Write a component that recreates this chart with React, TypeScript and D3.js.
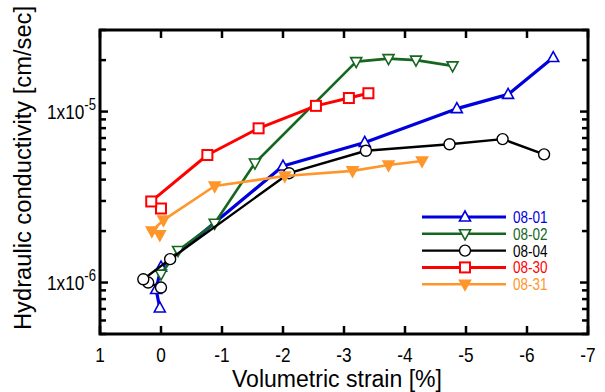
import { useRef, useEffect } from 'react'
import * as d3 from 'd3'

// volumetric strain [%] and hydraulic conductivity [cm/sec] per specimen
const strain0801 = [0.02, 0.08, 0.0, -2.0, -3.34, -4.85, -5.69, -6.43]
const k0801 = [7.1e-7, 9.1e-7, 1.23e-6, 4.8e-6, 6.6e-6, 1.04e-5, 1.26e-5, 2.07e-5]

const strain0802 = [0.0, -0.28, -0.88, -1.54, -3.2, -3.73, -4.18, -4.78]
const k0802 = [1.12e-6, 1.54e-6, 2.22e-6, 5.0e-6, 1.96e-5, 2.04e-5, 2.0e-5, 1.85e-5]

const strain0804 = [0.0, 0.21, 0.29, -0.15, -2.1, -3.36, -4.73, -5.6, -6.28]
const k0804 = [9.35e-7, 1.0e-6, 1.045e-6, 1.37e-6, 4.36e-6, 5.9e-6, 6.44e-6, 6.9e-6, 5.62e-6]

const strain0830 = [0.0, 0.16, -0.76, -1.6, -2.54, -3.08, -3.4]
const k0830 = [2.71e-6, 2.98e-6, 5.57e-6, 7.98e-6, 1.08e-5, 1.2e-5, 1.28e-5]

const strain0831 = [0.02, 0.15, -0.04, -0.88, -2.03, -3.14, -3.73, -4.28]
const k0831 = [1.9e-6, 2.0e-6, 2.32e-6, 3.67e-6, 4.2e-6, 4.5e-6, 4.87e-6, 5.14e-6]

const xTicks = [1, 0, -1, -2, -3, -4, -5, -6, -7]
const yMajor = [1e-6, 1e-5]
const yMajorExp = ['-6', '-5']

type Marker = 'up' | 'down' | 'circle' | 'square' | 'downFilled'

const series: { name: string; xs: number[]; ys: number[]; color: string; width: number; marker: Marker }[] = [
  { name: '08-01', xs: strain0801, ys: k0801, color: '#0000dd', width: 3.2, marker: 'up' },
  { name: '08-02', xs: strain0802, ys: k0802, color: '#15661f', width: 2.6, marker: 'down' },
  { name: '08-04', xs: strain0804, ys: k0804, color: '#000000', width: 2.4, marker: 'circle' },
  { name: '08-30', xs: strain0830, ys: k0830, color: '#ff0000', width: 3, marker: 'square' },
  { name: '08-31', xs: strain0831, ys: k0831, color: '#ff962b', width: 2.6, marker: 'downFilled' },
]

const FONT = "'Liberation Sans', Arial, sans-serif"
const NARROW = 0.82

function drawMarker(g: d3.Selection<SVGGElement, unknown, null, undefined>, m: Marker, cx: number, cy: number, color: string) {
  if (m === 'circle') {
    g.append('circle').attr('cx', cx).attr('cy', cy).attr('r', 5.5)
      .attr('fill', 'white').attr('stroke', color).attr('stroke-width', 1.4)
  } else if (m === 'square') {
    g.append('rect').attr('x', cx - 5).attr('y', cy - 5).attr('width', 10).attr('height', 10)
      .attr('fill', 'white').attr('stroke', color).attr('stroke-width', 2)
  } else {
    const s = m === 'up' ? -1 : 1
    const p = `M${cx},${cy + 6 * s}L${cx + 5.5},${cy - 4 * s}L${cx - 5.5},${cy - 4 * s}Z`
    g.append('path').attr('d', p)
      .attr('fill', m === 'downFilled' ? color : 'white')
      .attr('stroke', color).attr('stroke-width', 1.6).attr('stroke-linejoin', 'miter')
  }
}

export default function App() {
  const svgRef = useRef<SVGSVGElement>(null)

  useEffect(() => {
    if (!svgRef.current) return
    const svg = d3.select(svgRef.current)
    svg.selectAll('*').remove()

    const left = 100, right = 588, top = 30, bottom = 334
    const x = d3.scaleLinear().domain([1, -7]).range([left, right])
    const y = d3.scaleLog().domain([5e-7, 3e-5]).range([bottom, top])

    // narrow text: Liberation Sans squeezed horizontally
    const label = (px: number, py: number, size: number, anchor: string) =>
      svg.append('text').attr('transform', `translate(${px},${py}) scale(${NARROW},1)`)
        .attr('text-anchor', anchor).style('font-family', FONT).style('font-size', `${size}px`)

    // ticks, inward on all four sides
    const ticks = svg.append('g').attr('stroke', 'black').attr('stroke-width', 2.5)
    xTicks.forEach(t => {
      ticks.append('line').attr('x1', x(t)).attr('x2', x(t)).attr('y1', bottom).attr('y2', bottom - 8)
      ticks.append('line').attr('x1', x(t)).attr('x2', x(t)).attr('y1', top).attr('y2', top + 8)
    })
    y.ticks().forEach(t => {
      const major = yMajor.some(v => Math.abs(v - t) / v < 1e-6)
      const len = major ? 8 : 6
      ticks.append('line').attr('x1', left).attr('x2', left + len).attr('y1', y(t)).attr('y2', y(t))
      ticks.append('line').attr('x1', right).attr('x2', right - len).attr('y1', y(t)).attr('y2', y(t))
    })

    svg.append('rect').attr('x', left).attr('y', top).attr('width', right - left).attr('height', bottom - top)
      .attr('fill', 'none').attr('stroke', 'black').attr('stroke-width', 3)

    // tick labels
    xTicks.forEach(t => {
      label(x(t), 362, 21, 'middle').text(`${t}`)
    })
    yMajor.forEach((v, i) => {
      const tx = label(96, y(v) + 7.5, 21, 'end')
      tx.append('tspan').text('1x10')
      tx.append('tspan').attr('dy', -9).style('font-size', '16px').text(yMajorExp[i])
    })

    // axis titles
    svg.append('text').attr('x', 337).attr('y', 387).attr('text-anchor', 'middle')
      .attr('textLength', 210).attr('lengthAdjust', 'spacingAndGlyphs')
      .style('font-family', FONT).style('font-size', '23px').text('Volumetric strain [%]')
    svg.append('text').attr('transform', 'translate(31,168) rotate(-90)').attr('text-anchor', 'middle')
      .attr('textLength', 324).attr('lengthAdjust', 'spacingAndGlyphs')
      .style('font-family', FONT).style('font-size', '23px').text('Hydraulic conductivity [cm/sec]')

    // series
    const line = d3.line<[number, number]>().x(d => x(d[0])).y(d => y(d[1]))
    series.forEach(s => {
      const g = svg.append('g')
      const pts = s.xs.map((v, i) => [v, s.ys[i]] as [number, number])
      g.append('path').attr('d', line(pts)).attr('fill', 'none')
        .attr('stroke', s.color).attr('stroke-width', s.width).attr('stroke-linejoin', 'round')
      pts.forEach(p => drawMarker(g, s.marker, x(p[0]), y(p[1]), s.color))
    })

    // legend
    series.forEach((s, i) => {
      const ly = 217 + i * 16.8
      const g = svg.append('g')
      g.append('line').attr('x1', 422).attr('x2', 506).attr('y1', ly).attr('y2', ly)
        .attr('stroke', s.color).attr('stroke-width', s.width)
      drawMarker(g, s.marker, 465, ly, s.color)
      label(513, ly + 6, 16.5, 'start').style('fill', s.color).text(s.name)
    })
  }, [])

  return <svg ref={svgRef} width={605} height={392} style={{ position: 'absolute', left: 0, top: 0 }} />
}
